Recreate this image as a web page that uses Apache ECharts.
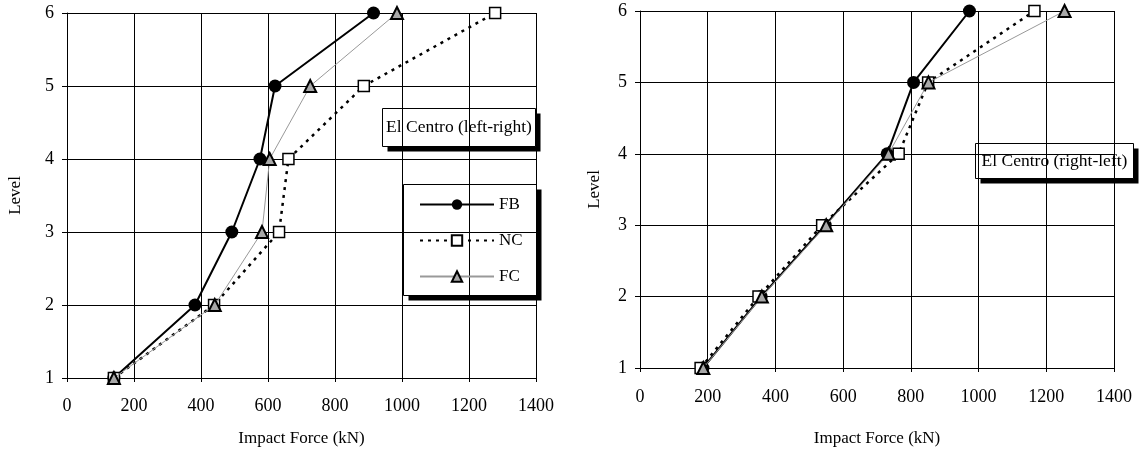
<!DOCTYPE html>
<html lang="en">
<head>
    <meta charset="UTF-8">
    <title>Impact Force - El Centro</title>
    <script src="https://cdn.jsdelivr.net/npm/echarts@6/dist/echarts.min.js"></script>
    <style>
        html, body { margin: 0; padding: 0; background: #fff; }
        #chart { width: 1139px; height: 452px; }
    </style>
</head>
<body>
<div id="chart"></div>
<script>
    // levels (y) and impact force in kN (x)
    var levels = [1, 2, 3, 4, 5, 6];

    // El Centro (left-right)
    var fbLR = [140, 382, 492, 576, 621, 915];
    var ncLR = [140, 439, 633, 661, 886, 1278];
    var fcLR = [140, 441, 582, 605, 726, 985];

    // El Centro (right-left)
    var fbRL = [186, 358, 547, 730, 808, 973];
    var ncRL = [179, 350, 538, 764, 851, 1165];
    var fcRL = [187, 360, 550, 734, 852, 1254];

    var xTicks = { min: 0, max: 1400, interval: 200 };
    var yTicks = { min: 1, max: 6, interval: 1 };

    var serif = '"Liberation Serif", "DejaVu Serif", serif';

    function pairs(xs) {
        return xs.map(function (v, i) { return [v, levels[i]]; });
    }

    function xAxis(idx, margin, gap) {
        return {
            type: 'value', gridIndex: idx,
            min: xTicks.min, max: xTicks.max, interval: xTicks.interval,
            name: 'Impact Force (kN)', nameLocation: 'middle', nameGap: gap,
            nameTextStyle: { fontFamily: serif, fontSize: 17, color: '#000' },
            axisLine: { show: true, lineStyle: { color: '#000', width: 1 } },
            axisTick: { show: true, length: 4, lineStyle: { color: '#000' } },
            axisLabel: {
                fontFamily: serif, fontSize: 18, color: '#000', margin: margin,
                formatter: function (v) { return String(v); }
            },
            splitLine: { show: true, lineStyle: { color: '#000', width: 1 } }
        };
    }

    function yAxis(idx, gap) {
        return {
            type: 'value', gridIndex: idx,
            min: yTicks.min, max: yTicks.max, interval: yTicks.interval,
            name: 'Level', nameLocation: 'middle', nameGap: gap, nameRotate: 90,
            nameTextStyle: { fontFamily: serif, fontSize: 17, color: '#000' },
            axisLine: { show: true, lineStyle: { color: '#000', width: 1 } },
            axisTick: { show: true, length: 5, lineStyle: { color: '#000' } },
            axisLabel: { fontFamily: serif, fontSize: 18, color: '#000', margin: 13 },
            splitLine: { show: true, lineStyle: { color: '#000', width: 1 } }
        };
    }

    function fb(idx, xs) {
        return {
            name: 'FB', type: 'line', xAxisIndex: idx, yAxisIndex: idx,
            data: pairs(xs), symbol: 'circle', symbolSize: 13,
            itemStyle: { color: '#000' },
            lineStyle: { color: '#000', width: 2 }, z: 2
        };
    }

    function nc(idx, xs) {
        return {
            name: 'NC', type: 'line', xAxisIndex: idx, yAxisIndex: idx,
            data: pairs(xs), symbol: 'rect', symbolSize: 11,
            itemStyle: { color: '#fff', borderColor: '#000', borderWidth: 1.5 },
            lineStyle: { color: '#000', width: 2.5, type: [3, 5] }, z: 3
        };
    }

    function fc(idx, xs) {
        return {
            name: 'FC', type: 'line', xAxisIndex: idx, yAxisIndex: idx,
            data: pairs(xs), symbol: 'triangle', symbolSize: 12,
            itemStyle: { color: '#a8a8a8', borderColor: '#000', borderWidth: 2 },
            lineStyle: { color: '#999', width: 1 }, z: 4
        };
    }

    function box(x, y, w, h, label) {
        var kids = [
            { type: 'rect', shape: { x: 5, y: 5, width: w, height: h }, style: { fill: '#000' } },
            { type: 'rect', shape: { x: 0, y: 0, width: w, height: h }, style: { fill: '#fff', stroke: '#000', lineWidth: 1 } }
        ];
        if (label) {
            kids.push({ type: 'text', x: w / 2, y: h / 2, style: { text: label, font: '17.5px ' + serif, fill: '#000', align: 'center', verticalAlign: 'middle' } });
        }
        return { type: 'group', left: x, top: y, z: 3, children: kids };
    }

    var myChart = echarts.init(document.getElementById('chart'));
    var option = {
        animation: false,
        backgroundColor: '#fff',
        grid: [
            { left: 67, top: 13, width: 469, height: 369 },
            { left: 640, top: 11, width: 474, height: 358 }
        ],
        xAxis: [xAxis(0, 19, 52), xAxis(1, 20, 62)],
        yAxis: [yAxis(0, 43), yAxis(1, 37)],
        legend: {
            data: ['FB', 'NC', 'FC'],
            orient: 'vertical', left: 405, top: 186, z: 6,
            padding: [10, 10, 10, 14],
            itemWidth: 74, itemHeight: 13, itemGap: 19,
            textStyle: { fontFamily: serif, fontSize: 17, color: '#000' }
        },
        graphic: [
            box(403, 184, 133, 111),
            box(382, 108, 153, 38, 'El Centro (left-right)'),
            box(975, 143, 158, 35, 'El Centro (right-left)')
        ],
        series: [
            fb(0, fbLR), nc(0, ncLR), fc(0, fcLR),
            fb(1, fbRL), nc(1, ncRL), fc(1, fcRL)
        ]
    };
    myChart.setOption(option, true);
</script>
</body>
</html>
